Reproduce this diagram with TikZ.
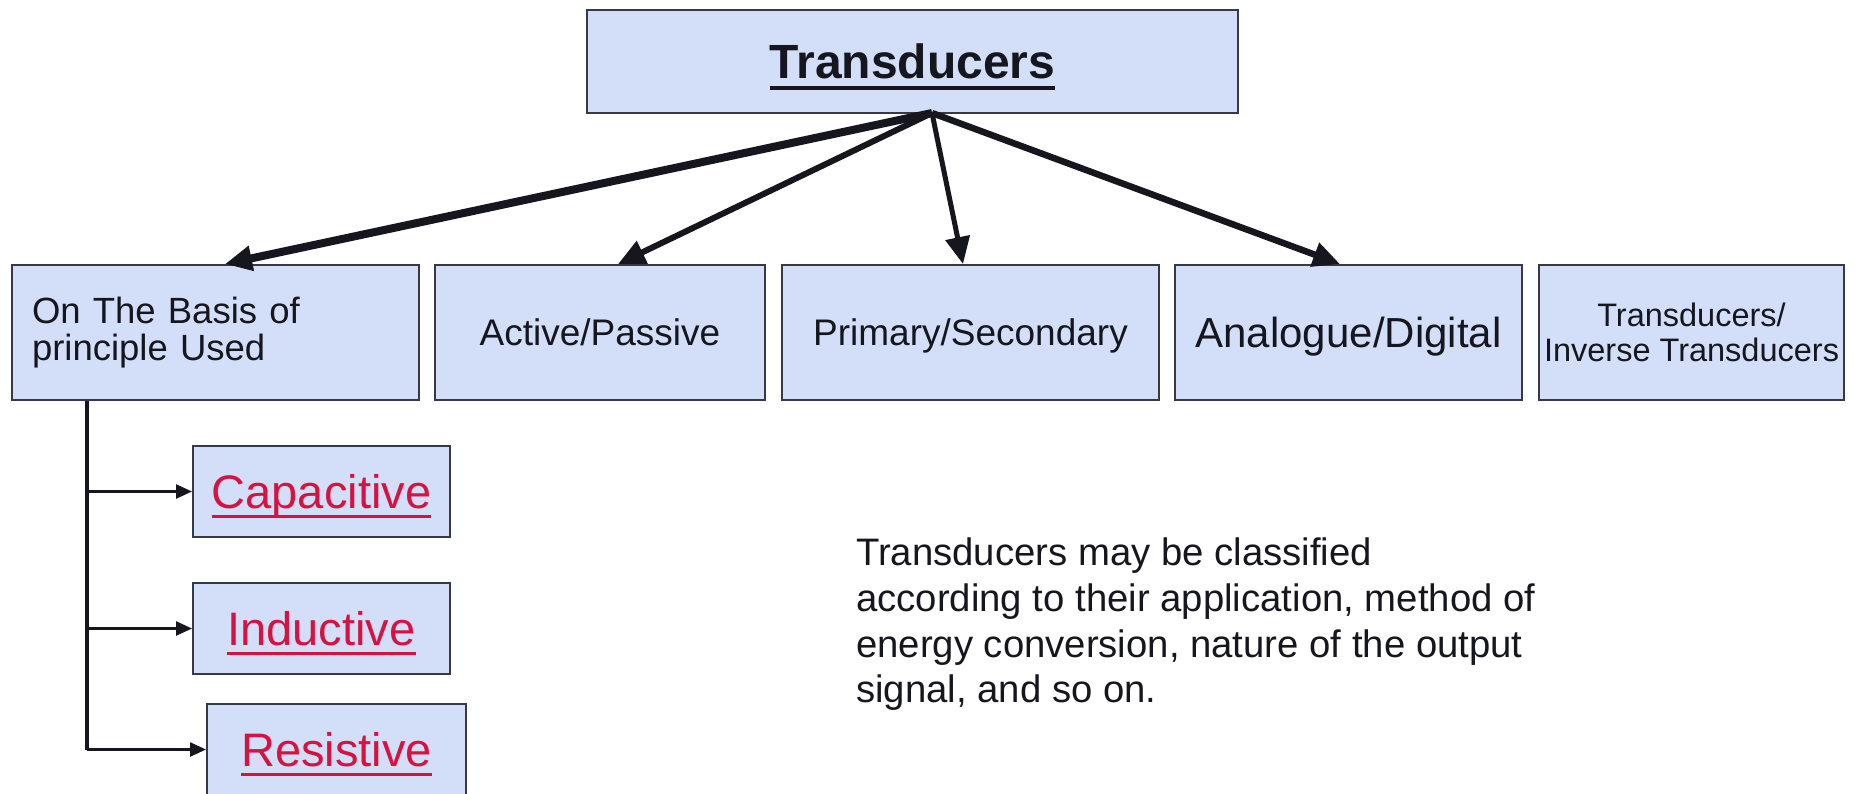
\documentclass[tikz,border=0pt]{standalone}
\usepackage{fontspec}
\setmainfont{Liberation Sans}
\usetikzlibrary{arrows.meta,calc}
\definecolor{boxfill}{RGB}{211,222,249}
\definecolor{boxline}{RGB}{55,58,70}
\definecolor{linkred}{RGB}{214,18,64}
\definecolor{ink}{RGB}{22,22,30}
\newsavebox\ulbox
\newcommand{\myul}[3]{\sbox\ulbox{#3}\rlap{\rule[-#1]{\wd\ulbox}{#2}}\usebox\ulbox}
\begin{document}
\begin{tikzpicture}[x=1pt,y=-1pt,
  box/.style={draw=boxline, line width=2pt, fill=boxfill, inner sep=0pt, text=ink},
  rowbox/.style={box, minimum height=135pt},
  subbox/.style={box, minimum height=91pt, text=linkred, text height=33.7pt, text depth=0pt,
                 font=\fontsize{47pt}{56pt}\selectfont},
  bigarrow/.style={-{Triangle[length=27pt,width=24pt]}, line width=6pt, ink},
  trunkline/.style={line width=4pt, ink},
  branch/.style={-{Triangle[length=16pt,width=14pt]}, line width=2.5pt, ink}]
\useasboundingbox (0,0) rectangle (1858,793);
\clip (0,0) rectangle (1858,793);
\fill[white] (0,0) rectangle (1858,793);

% top box
\node[box, minimum width=651pt, minimum height=103pt, text height=34.4pt, text depth=0pt,
      font=\fontsize{48pt}{56pt}\selectfont\bfseries] (top) at (912.5,61.5)
      {\myul{11pt}{4pt}{Transducers}};
\coordinate (hub) at (932,113);

% second row
\node[rowbox, minimum width=407pt, text width=367pt, align=left,
      font=\fontsize{36.5pt}{37pt}\selectfont] (b1) at (215.5,332.5)
      {On The Basis of\\principle Used};
\node[rowbox, minimum width=330pt, text height=26.5pt, text depth=0pt,
      font=\fontsize{37pt}{44pt}\selectfont] (b2) at (600,332.5) {Active/Passive};
\node[rowbox, minimum width=377pt, text height=26.5pt, text depth=0pt,
      font=\fontsize{37pt}{44pt}\selectfont] (b3) at (970.5,332.5) {Primary/Secondary};
\node[rowbox, minimum width=347pt, text height=30pt, text depth=0pt,
      font=\fontsize{42pt}{50pt}\selectfont] (b4) at (1348.5,332.5) {Analogue/Digital};
\node[rowbox, minimum width=305pt, align=center,
      font=\fontsize{32.5pt}{35pt}\selectfont] (b5) at (1691.5,332.5)
      {Transducers/\\Inverse Transducers};

% arrows from the top box
\draw[bigarrow, line width=8pt] (hub) -- ([xshift=9.5pt]b1.north);
\draw[bigarrow] (hub) -- ([xshift=18pt]b2.north);
\draw[bigarrow, line width=5pt] (hub) -- ([xshift=-7.5pt]b3.north);
\draw[bigarrow, line width=6.5pt] (hub) -- ([xshift=-8.5pt]b4.north);

% sub boxes
\node[subbox, minimum width=257pt] (cap) at (321.5,491.5) {\myul{9.5pt}{2.7pt}{Capacitive}};
\node[subbox, minimum width=257pt] (ind) at (321.5,628.5) {\myul{9.5pt}{2.7pt}{Inductive}};
\node[subbox, minimum width=259pt] (res) at (336.5,749.5) {\myul{9.5pt}{2.7pt}{Resistive}};

% trunk and branches
\path (b1.south west) ++(76,0) coordinate (trunk);
\draw[trunkline] (trunk) -- (trunk |- res.west);
\draw[branch] (trunk |- cap.west) -- (cap.west);
\draw[branch] (trunk |- ind.west) -- (ind.west);
\draw[branch] (trunk |- res.west) -- (res.west);

% description
\node[anchor=north west, inner sep=0pt, align=left, text=ink,
      font=\fontsize{38.3pt}{45.6pt}\selectfont] (desc) at (856,538)
      {Transducers may be classified\\according to their application, method of\\energy conversion, nature of the output\\signal, and so on.};
\end{tikzpicture}
\end{document}
